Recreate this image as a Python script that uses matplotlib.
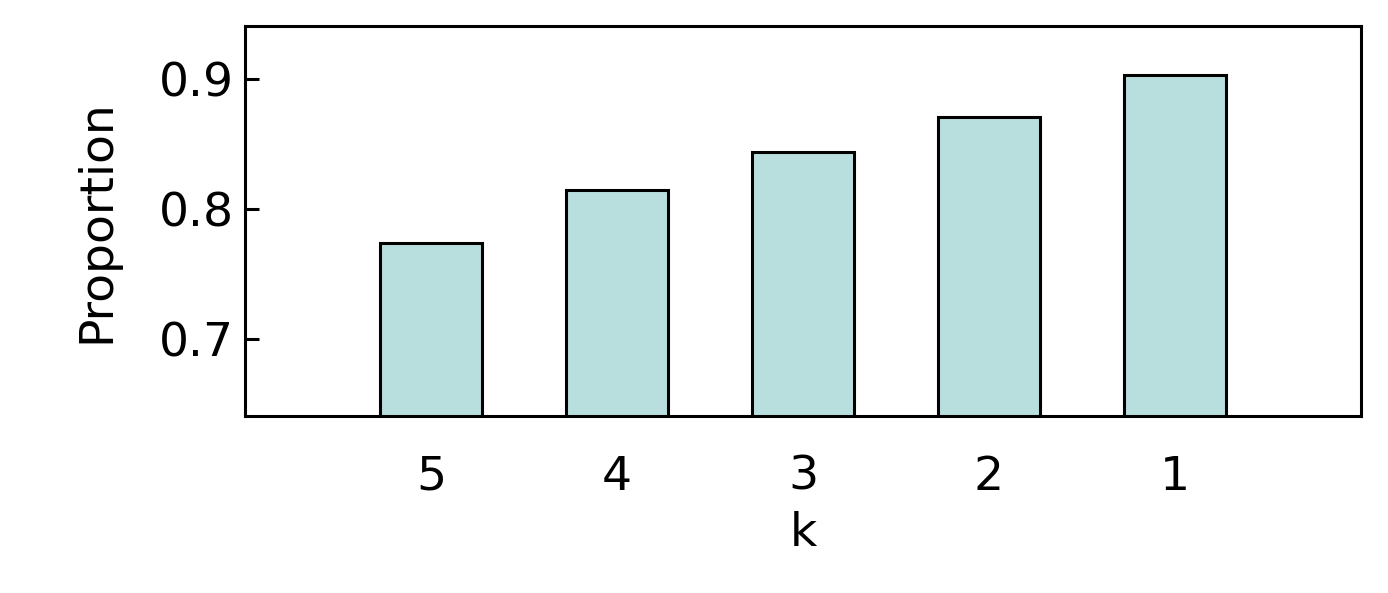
import matplotlib
matplotlib.use("Agg")
import matplotlib.pyplot as plt

categories = ["5", "4", "3", "2", "1"]
values = [0.774, 0.8146, 0.8438, 0.8708, 0.903]

plt.rcParams['font.family'] = ['DejaVu Sans']
fig = plt.figure(figsize=(6.94, 2.965), dpi=200)
ax = fig.add_axes([245/1388, 1-416/593, 1116/1388, 390/593])
x = list(range(len(categories)))
ax.bar(x, values, width=0.55, color="#b8dfde", edgecolor="black", linewidth=1.1)
ax.set_xlim(-1, 5)
ax.set_ylim(0.6408, 0.9408)
ax.set_xticks(x)
ax.set_xticklabels(categories)
ax.set_yticks([0.7, 0.8, 0.9])
ax.tick_params(axis='y', direction='in', length=5, width=1.1, labelsize=17, pad=4)
ax.tick_params(axis='x', length=0, labelsize=17, pad=14)
for s in ax.spines.values():
    s.set_linewidth(1.1)
ax.set_xlabel("k", fontsize=17, labelpad=4)
ax.set_ylabel("Proportion", fontsize=17, labelpad=14)
fig.savefig("out.png", dpi=200)
